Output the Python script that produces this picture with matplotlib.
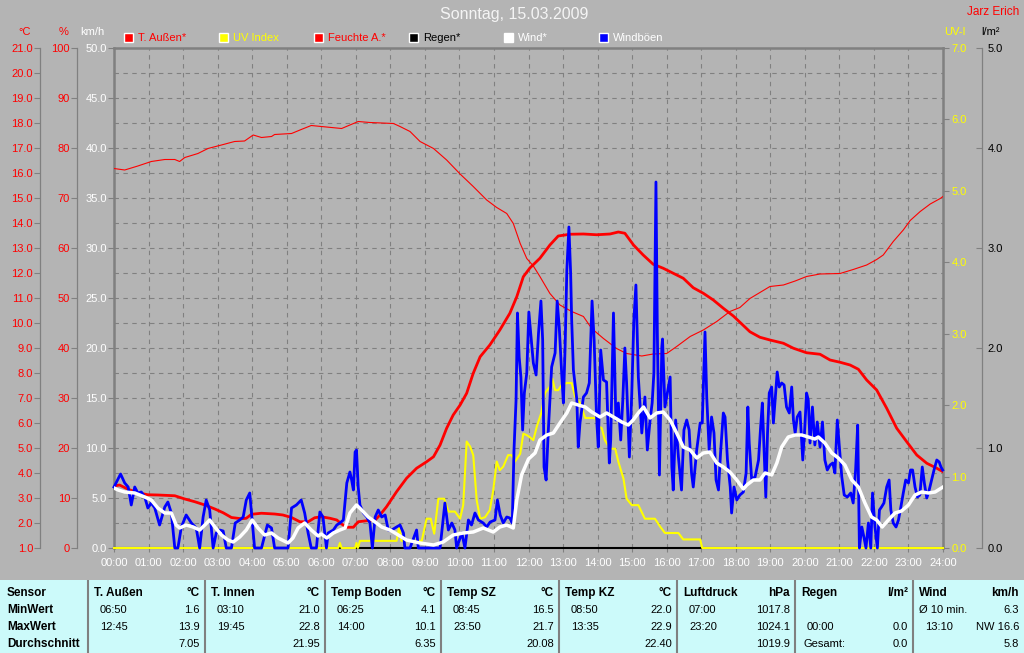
import matplotlib
matplotlib.use("Agg")
import matplotlib.pyplot as plt
from matplotlib.patches import Rectangle
from matplotlib.ticker import MultipleLocator, FormatStrFormatter, FuncFormatter

plt.rcParams['font.family'] = ['Liberation Sans', 'DejaVu Sans']

# ---- data (hours since midnight) ----
temp_h = [0.00, 0.16, 0.41, 0.69, 0.98, 1.27, 1.76, 2.05, 2.34, 2.63, 2.92, 3.16, 3.40, 3.69,
          3.83, 3.98, 4.27, 4.65, 4.89, 5.14, 5.38, 5.62, 5.81, 6.00, 6.25, 6.45, 6.59, 6.74,
          6.93, 7.07, 7.32, 7.56, 7.70, 7.89, 8.18, 8.47, 8.76, 9.05, 9.25, 9.44, 9.63, 9.82,
          10.02, 10.21, 10.40, 10.60, 10.88, 11.17, 11.46, 11.66, 11.85, 12.04, 12.33, 12.62,
          12.86, 13.20, 13.59, 13.97, 14.36, 14.60, 14.79, 15.04, 15.32, 15.61, 15.90, 16.19,
          16.48, 16.77, 17.06, 17.35, 17.64, 17.93, 18.22, 18.41, 18.70, 18.99, 19.38, 19.67,
          20.05, 20.44, 20.73, 21.02, 21.31, 21.55, 21.79, 22.08, 22.37, 22.66, 22.95, 23.24,
          23.53, 23.82, 24.00]
temp_v = [3.48, 3.52, 3.35, 3.21, 3.13, 3.12, 3.09, 2.96, 2.85, 2.72, 2.56, 2.41, 2.22, 2.17,
          2.19, 2.35, 2.39, 2.36, 2.32, 2.22, 2.05, 2.05, 2.21, 2.25, 2.19, 2.12, 1.96, 1.83,
          1.83, 2.05, 2.09, 2.12, 2.32, 2.65, 3.25, 3.79, 4.19, 4.45, 4.65, 5.12, 5.79, 6.32,
          6.72, 7.19, 7.99, 8.65, 9.12, 9.72, 10.39, 11.05, 11.85, 12.20, 12.59, 13.12,
          13.48, 13.55, 13.56, 13.53, 13.56, 13.64, 13.59, 13.12, 12.72, 12.35, 12.19, 11.99,
          11.79, 11.41, 11.19, 10.92, 10.59, 10.28, 9.90, 9.65, 9.43, 9.32, 9.19, 8.99,
          8.81, 8.75, 8.52, 8.43, 8.32, 8.15, 7.72, 7.32, 6.59, 5.79, 5.25, 4.72,
          4.39, 4.19, 4.05]

hum_h = [0.00, 0.31, 0.69, 1.08, 1.47, 1.76, 1.90, 2.05, 2.43, 2.72, 3.11, 3.49, 3.78, 4.03,
         4.27, 4.56, 4.65, 5.14, 5.42, 5.71, 6.00, 6.59, 6.83, 7.07, 7.41, 8.09, 8.28, 8.57,
         8.86, 9.25, 9.63, 10.02, 10.40, 10.79, 11.08, 11.37, 11.56, 11.76, 11.95, 12.14,
         12.33, 12.62, 12.91, 13.25, 13.59, 13.83, 14.17, 14.55, 14.84, 15.28, 15.61, 16.00,
         16.29, 16.68, 17.06, 17.45, 17.83, 18.12, 18.41, 18.70, 18.99, 19.38, 19.72, 20.05,
         20.44, 21.02, 21.40, 21.79, 22.08, 22.27, 22.56, 22.85, 23.05, 23.34, 23.63, 23.92,
         24.00]
hum_v = [75.9, 75.6, 76.4, 77.3, 77.7, 77.7, 77.3, 78.1, 78.9, 79.9, 80.6, 81.3, 81.4, 82.6,
         82.1, 82.3, 82.7, 82.9, 83.7, 84.5, 84.3, 83.9, 84.6, 85.3, 85.1, 84.9, 84.3, 83.3,
         81.3, 79.9, 77.6, 74.8, 72.3, 69.6, 68.1, 66.9, 64.9, 60.9, 57.9, 56.4,
         54.3, 50.9, 48.6, 47.3, 46.3, 43.9, 41.9, 39.9, 38.9, 38.4, 38.8, 38.9,
         40.3, 42.3, 43.6, 45.3, 47.3, 48.1, 49.9, 51.1, 52.3, 52.6, 53.4, 54.3,
         54.8, 54.9, 55.7, 56.6, 57.7, 58.6, 61.3, 63.6, 65.5, 67.3, 68.8, 69.9,
         70.3]

uv_h = [0.00, 6.49, 6.54, 6.59, 6.98, 7.02, 7.06, 7.12, 8.18, 8.26, 8.32, 8.91, 9.05, 9.17,
        9.27, 9.39, 9.56, 9.68, 9.87, 10.02, 10.11, 10.21, 10.31, 10.40, 10.50, 10.60, 10.74,
        10.88, 10.98, 11.08, 11.17, 11.27, 11.41, 11.51, 11.61, 11.76, 11.85, 11.95, 12.04,
        12.14, 12.24, 12.37, 12.48, 12.62, 12.69, 12.77, 12.86, 12.96, 13.11, 13.25, 13.35,
        13.49, 13.64, 13.93, 14.02, 14.12, 14.21, 14.36, 14.51, 14.60, 14.75, 14.84, 14.99,
        15.18, 15.37, 15.66, 15.81, 15.95, 16.34, 16.48, 16.97, 17.03, 24.00]
uv_v = [0.00, 0.00, 0.07, 0.00, 0.00, 0.07, 0.00, 0.10, 0.10, 0.30, 0.10, 0.10, 0.41, 0.41,
        0.20, 0.69, 0.69, 0.51, 0.51, 0.41, 0.60, 1.49, 1.42, 1.30, 0.67, 0.41, 0.43,
        0.53, 0.81, 1.21, 1.09, 1.14, 1.30, 1.30, 1.21, 1.32, 1.60, 1.58, 1.55,
        1.51, 1.70, 1.89, 2.17, 2.26, 2.37, 2.21, 2.21, 2.28, 2.31, 2.31, 2.12,
        2.03, 1.82, 1.82, 1.70, 1.68, 1.51, 1.39, 1.39, 1.21, 0.97, 0.69, 0.60,
        0.60, 0.41, 0.41, 0.30, 0.21, 0.21, 0.12, 0.12, 0.00, 0.00]

rain_h = [0.0, 24.0]
rain_v = [0.0, 0.0]

wind_h = [0.00, 0.12, 0.31, 0.60, 0.89, 1.08, 1.27, 1.47, 1.66, 1.80, 1.90, 2.09, 2.29, 2.48,
          2.63, 2.77, 2.92, 3.11, 3.30, 3.45, 3.64, 3.83, 4.00, 4.17, 4.36, 4.56, 4.75, 5.04,
          5.18, 5.33, 5.52, 5.71, 5.91, 6.00, 6.16, 6.35, 6.54, 6.69, 6.83, 7.02, 7.17, 7.36,
          7.56, 7.75, 7.99, 8.23, 8.47, 8.86, 9.25, 9.53, 9.82, 10.11, 10.40, 10.69, 10.98,
          11.17, 11.37, 11.56, 11.66, 11.80, 12.00, 12.19, 12.33, 12.53, 12.72, 12.91, 13.11,
          13.25, 13.44, 13.64, 13.83, 14.07, 14.26, 14.46, 14.70, 14.89, 15.03, 15.18, 15.33,
          15.52, 15.71, 15.90, 16.10, 16.29, 16.48, 16.68, 16.87, 17.06, 17.25, 17.45, 17.64,
          17.83, 18.03, 18.22, 18.32, 18.51, 18.70, 18.85, 19.04, 19.19, 19.33, 19.52, 19.72,
          19.91, 20.10, 20.29, 20.39, 20.58, 20.78, 20.97, 21.16, 21.36, 21.55, 21.74, 21.93,
          22.08, 22.24, 22.42, 22.61, 22.80, 23.00, 23.19, 23.38, 23.58, 23.77, 24.00]
wind_v = [6.0, 5.8, 5.6, 5.5, 5.1, 4.8, 4.0, 3.5, 3.5, 2.3, 2.0, 2.3, 2.1, 1.8,
          2.3, 2.8, 2.1, 1.3, 0.8, 0.6, 1.1, 1.8, 2.8, 2.0, 1.3, 1.5, 1.0, 0.5,
          1.0, 2.0, 2.5, 1.8, 1.2, 1.4, 1.0, 1.5, 1.8, 2.0, 3.5, 4.3, 3.8, 3.1,
          2.6, 2.1, 1.8, 1.3, 0.8, 0.5, 0.3, 0.6, 1.3, 1.5, 1.6, 2.0, 1.6,
          2.1, 2.3, 2.0, 4.8, 7.3, 8.9, 9.5, 10.8, 11.3, 11.5, 12.5, 13.5,
          14.5, 14.3, 14.1, 13.6, 13.1, 13.5, 13.1, 12.6, 12.3, 12.8, 13.5, 14.1,
          13.0, 13.5, 13.6, 12.8, 11.5, 10.1, 9.8, 9.0, 9.5, 9.6, 8.5, 8.1,
          7.6, 6.8, 5.9, 6.3, 6.8, 6.8, 7.5, 7.3, 8.5, 10.1, 11.1, 11.3,
          11.3, 11.1, 10.9, 11.1, 10.5, 9.5, 9.0, 8.3, 6.8, 6.1, 4.5, 3.1,
          2.8, 2.1, 2.8, 3.5, 3.7, 4.3, 5.3, 5.6, 5.5, 5.6, 6.1]

gust_h = [0.00, 0.19, 0.31, 0.41, 0.50, 0.60, 0.69, 0.79, 0.89, 0.98, 1.08, 1.18, 1.32, 1.47,
          1.56, 1.66, 1.76, 1.85, 1.95, 2.09, 2.24, 2.38, 2.48, 2.58, 2.67, 2.77, 2.87, 2.96,
          3.06, 3.16, 3.25, 3.40, 3.51, 3.64, 3.74, 3.83, 3.93, 4.00, 4.07, 4.27, 4.44, 4.56,
          4.65, 4.85, 5.04, 5.14, 5.28, 5.42, 5.52, 5.62, 5.71, 5.86, 5.96, 6.05, 6.15, 6.20,
          6.35, 6.45, 6.54, 6.64, 6.74, 6.83, 6.88, 6.93, 6.98, 7.02, 7.07, 7.12, 7.22, 7.32,
          7.41, 7.48, 7.56, 7.65, 7.75, 7.85, 7.94, 8.04, 8.18, 8.28, 8.38, 8.42, 8.57, 8.76,
          8.81, 9.44, 9.58, 9.68, 9.78, 9.87, 9.92, 10.07, 10.16, 10.26, 10.35, 10.45, 10.55,
          10.69, 10.79, 10.89, 11.03, 11.10, 11.18, 11.27, 11.37, 11.46, 11.53, 11.58, 11.64,
          11.68, 11.73, 11.78, 11.83, 11.88, 11.95, 12.01, 12.14, 12.22, 12.29, 12.36, 12.41,
          12.45, 12.51, 12.57, 12.67, 12.77, 12.83, 12.89, 12.96, 13.01, 13.06, 13.11, 13.17,
          13.22, 13.25, 13.30, 13.40, 13.44, 13.49, 13.59, 13.68, 13.76, 13.84, 13.90, 13.97,
          14.02, 14.09, 14.17, 14.26, 14.34, 14.38, 14.46, 14.53, 14.60, 14.67, 14.73, 14.79,
          14.84, 14.92, 14.99, 15.05, 15.11, 15.18, 15.28, 15.37, 15.44, 15.52, 15.58, 15.63,
          15.69, 15.73, 15.79, 15.86, 15.88, 15.95, 16.02, 16.10, 16.15, 16.19, 16.26, 16.34,
          16.43, 16.50, 16.58, 16.65, 16.72, 16.77, 16.87, 16.97, 17.03, 17.11, 17.16, 17.23,
          17.30, 17.37, 17.43, 17.50, 17.56, 17.64, 17.69, 17.76, 17.84, 17.88, 17.95, 18.03,
          18.12, 18.22, 18.30, 18.35, 18.39, 18.46, 18.56, 18.66, 18.72, 18.77, 18.82, 18.87,
          18.92, 18.97, 19.04, 19.09, 19.14, 19.20, 19.26, 19.33, 19.40, 19.47, 19.55, 19.62,
          19.67, 19.72, 19.78, 19.86, 19.94, 20.00, 20.05, 20.10, 20.15, 20.22, 20.29, 20.36,
          20.44, 20.51, 20.58, 20.65, 20.73, 20.81, 20.87, 20.94, 21.00, 21.07, 21.14, 21.23,
          21.33, 21.40, 21.47, 21.53, 21.58, 21.65, 21.71, 21.77, 21.84, 21.91, 21.96, 22.03,
          22.10, 22.16, 22.22, 22.29, 22.37, 22.44, 22.49, 22.56, 22.64, 22.71, 22.78, 22.85,
          22.92, 23.00, 23.06, 23.12, 23.19, 23.26, 23.33, 23.40, 23.46, 23.53, 23.60, 23.67,
          23.74, 23.82, 23.89, 23.94, 23.99]
gust_v = [6.1, 7.4, 6.5, 6.1, 4.3, 6.1, 5.5, 5.6, 5.1, 4.0, 4.5, 4.0, 2.3, 4.1,
          4.6, 3.5, 0.0, 0.0, 2.1, 3.3, 2.5, 2.0, 0.0, 3.1, 4.8, 3.8, 0.0, 1.5,
          1.8, 1.7, 0.0, 0.0, 2.5, 2.8, 3.1, 4.8, 5.5, 2.8, 0.0, 0.0, 2.3, 2.0,
          0.0, 0.0, 0.0, 4.0, 4.3, 4.8, 3.5, 1.5, 0.0, 0.0, 3.6, 3.1, 0.0, 1.5,
          1.8, 2.3, 2.5, 2.8, 6.5, 7.6, 6.8, 5.8, 9.6, 9.8, 6.1, 4.3, 3.5, 3.1,
          2.5, 0.0, 3.1, 3.8, 3.1, 3.3, 1.8, 1.8, 2.1, 2.3, 1.5, 0.0, 0.0, 1.8,
          0.0, 0.0, 4.5, 1.8, 2.5, 1.8, 0.0, 1.5, 0.0, 2.8, 2.3, 3.5, 2.8,
          2.5, 2.1, 2.6, 2.8, 4.8, 3.3, 2.5, 3.1, 3.0, 2.5, 9.8, 14.8,
          23.5, 19.1, 17.1, 11.8, 15.5, 17.5, 23.6, 18.5, 17.3, 21.5, 24.7, 20.8,
          8.1, 6.8, 11.5, 18.1, 19.5, 24.7, 22.1, 17.5, 14.5, 20.1, 27.8, 32.1,
          27.5, 22.8, 17.8, 14.8, 10.1, 12.5, 15.1, 15.5, 16.5, 24.7, 20.8, 13.1,
          10.1, 19.8, 16.8, 16.6, 8.5, 10.8, 23.5, 12.8, 14.5, 10.8, 14.8, 20.0,
          16.5, 9.1, 15.5, 22.8, 26.3, 17.1, 11.5, 15.1, 9.8, 12.8, 14.5, 17.5,
          36.6, 21.5, 7.3, 20.1, 20.9, 14.1, 15.5, 17.1, 8.1, 5.8, 12.8, 9.1,
          5.8, 11.8, 12.8, 11.8, 7.5, 6.1, 9.8, 12.5, 12.5, 21.6, 15.1, 9.8,
          13.1, 11.5, 6.8, 5.8, 9.5, 13.5, 13.1, 8.8, 6.1, 3.5, 6.1, 4.8,
          5.3, 5.6, 7.5, 14.1, 10.5, 6.9, 7.1, 8.8, 12.1, 14.5, 9.8, 5.1,
          11.5, 15.5, 16.1, 12.5, 14.8, 17.6, 16.1, 16.5, 16.3, 14.1, 13.5, 16.1,
          12.8, 11.5, 13.1, 13.6, 8.8, 12.1, 15.5, 14.8, 10.5, 14.1, 10.3, 12.6,
          10.1, 12.6, 8.8, 7.8, 8.3, 8.5, 7.5, 12.8, 10.1, 7.1, 5.3, 5.1,
          5.5, 4.5, 7.8, 12.3, 0.0, 2.1, 1.1, 0.0, 2.5, 0.0, 5.5, 2.1,
          0.0, 3.8, 4.1, 4.5, 6.1, 6.8, 3.8, 2.5, 2.1, 2.8, 4.1, 5.5,
          6.8, 6.5, 7.8, 7.8, 6.1, 5.1, 5.3, 8.1, 6.5, 5.0, 5.8, 6.8,
          7.8, 8.8, 8.6, 8.1, 7.8]

title = 'Sonntag, 15.03.2009'
legend_labels = ['T. Außen*', 'UV Index', 'Feuchte A.*', 'Regen*', 'Wind*', 'Windböen']
legend_colors = ['#ff0000', '#ffff00', '#ff0000', '#000000', '#ffffff', '#0000ff']
legend_text_colors = ['#ff0000', '#ffff00', '#ff0000', '#000000', '#ffffff', '#ffffff']

# statistics table
row_names = ['Sensor', 'MinWert', 'MaxWert', 'Durchschnitt']
sensors = ['T. Außen', 'T. Innen', 'Temp Boden', 'Temp SZ', 'Temp KZ', 'Luftdruck', 'Regen', 'Wind']
units = ['°C', '°C', '°C', '°C', '°C', 'hPa', 'l/m²', 'km/h']
min_time = ['06:50', '03:10', '06:25', '08:45', '08:50', '07:00', '', '']
min_val = ['1.6', '21.0', '4.1', '16.5', '22.0', '1017.8', '', '6.3']
max_time = ['12:45', '19:45', '14:00', '23:50', '13:35', '23:20', '00:00', '13:10']
max_val = ['13.9', '22.8', '10.1', '21.7', '22.9', '1024.1', '0.0', 'NW 16.6']
avg_note = ['', '', '', '', '', '', 'Gesamt:', '']
avg_val = ['7.05', '21.95', '6.35', '20.08', '22.40', '1019.9', '0.0', '5.8']
min_note = ['', '', '', '', '', '', '', 'Ø 10 min.']

# ---- figure ----
W, H = 1024, 653
BG = '#b4b4b4'
GRID = '#808080'
RED = '#ff0000'
YEL = '#ffff00'

fig = plt.figure(figsize=(W / 100, H / 100), dpi=100, facecolor=BG)


def fx(px):
    return px / W


def fy(py):
    return 1 - py / H


L, R, T, B = 114, 943, 48, 548
ax = fig.add_axes([fx(L), fy(B), (R - L) / W, (B - T) / H])
ax.set_facecolor(BG)
ax.set_xlim(0, 24)
ax.set_ylim(0, 50)
ax.xaxis.set_major_locator(MultipleLocator(1))
ax.xaxis.set_major_formatter(FuncFormatter(lambda v, p: '%02d:00' % int(round(v))))
ax.yaxis.set_major_locator(MultipleLocator(5))
ax.yaxis.set_minor_locator(MultipleLocator(2.5))
ax.yaxis.set_major_formatter(FormatStrFormatter('%.1f'))
ax.grid(which='both', color=GRID, ls=(0, (4, 4)), lw=0.8)
ax.tick_params(axis='y', which='minor', length=0)
ax.tick_params(axis='y', which='major', color=GRID, labelcolor='white', length=4,
               width=0.8, labelsize=8, pad=1)
ax.tick_params(axis='x', color=GRID, labelcolor='white', length=3, width=0.8,
               labelsize=8, pad=4)
for s in ['left', 'top', 'right']:
    ax.spines[s].set_color(GRID)
    ax.spines[s].set_linewidth(1.8)
ax.spines['bottom'].set_visible(False)


def side_axis(side, pos, lo, hi, step, fmt, color, direction='out'):
    a = ax.twinx()
    for s in a.spines.values():
        s.set_visible(False)
    if side == 'left':
        a.yaxis.tick_left()
    else:
        a.yaxis.tick_right()
    if pos is not None:
        a.spines[side].set_visible(True)
        a.spines[side].set_position(('axes', pos))
        a.spines[side].set_color(GRID)
        a.spines[side].set_linewidth(0.9)
    a.set_ylim(lo, hi)
    a.yaxis.set_major_locator(MultipleLocator(step))
    a.yaxis.set_major_formatter(FormatStrFormatter(fmt))
    a.tick_params(axis='y', color=GRID, labelcolor=color, length=4, width=0.8,
                  labelsize=8, pad=1 if direction == 'out' else 4, direction=direction)
    return a


span = R - L
t_ax = side_axis('left', (40 - L) / span, 1, 21, 1, '%.1f', RED)
h_ax = side_axis('left', (77 - L) / span, 0, 100, 10, '%d', RED)
r_ax = side_axis('right', (982 - L) / span, 0, 5, 1, '%.1f', 'black', direction='in')
uv_ax = side_axis('right', None, 0, 7, 1, '%.1f', YEL)
uv_ax.tick_params(axis='y', pad=2)

w_ax = ax.twinx()
w_ax.set_ylim(0, 50)
w_ax.set_yticks([])
for s in w_ax.spines.values():
    s.set_visible(False)

t_ax.plot(temp_h, temp_v, color=RED, lw=2.0)
h_ax.plot(hum_h, hum_v, color=RED, lw=0.8)
r_ax.plot(rain_h, rain_v, color='black', lw=1.5, clip_on=False)
uv_ax.plot(uv_h, uv_v, color=YEL, lw=1.5, clip_on=False)
w_ax.plot(gust_h, gust_v, color='#0000ff', lw=2.0, clip_on=False)
w_ax.plot(wind_h, wind_v, color='white', lw=2.5)

# ---- header texts ----
fig.text(fx(514), fy(15), title, ha='center', va='center', color='#f4f4f4', fontsize=11.5)
fig.text(fx(993), fy(12), 'Jarz Erich', ha='center', va='center', color=RED, fontsize=8.5)
for lab, xc, col in [('°C', 25, RED), ('%', 64, RED), ('km/h', 92, 'white'),
                     ('UV-I', 955, YEL), ('l/m²', 991, 'black')]:
    fig.text(fx(xc), fy(32), lab, ha='center', va='center', color=col, fontsize=8)

for i, (lab, c, tc) in enumerate(zip(legend_labels, legend_colors, legend_text_colors)):
    x0 = 124 + 95 * i
    fig.add_artist(Rectangle((fx(x0), fy(42)), 9 / W, 9 / H, transform=fig.transFigure,
                             facecolor=c, edgecolor='white', lw=1))
    fig.text(fx(x0 + 14), fy(38), lab, ha='left', va='center', color=tc, fontsize=8)

# ---- statistics table ----
TOP = 580
tab = fig.add_axes([0, 0, 1, (H - TOP) / H])
tab.set_xlim(0, W)
tab.set_ylim(H, TOP)
tab.set_facecolor('#ccfafa')
tab.set_xticks([])
tab.set_yticks([])
for s in tab.spines.values():
    s.set_visible(False)

seps = [88, 205, 325, 441, 559, 677, 795, 913, 1024]
rows_y = [593, 610, 627, 644]
tab.vlines(seps[:-1], TOP, H, color=GRID, lw=1.5)
for name, yy in zip(row_names, rows_y):
    tab.text(7, yy, name, ha='left', va='center', fontsize=8.5, fontweight='bold')

for i in range(len(sensors)):
    x0, x1 = seps[i], seps[i + 1]
    tx, rx = x0 + 12, x1 - 5
    tab.text(x0 + 6, rows_y[0], sensors[i], ha='left', va='center', fontsize=8.5, fontweight='bold')
    tab.text(rx, rows_y[0], units[i], ha='right', va='center', fontsize=8.5, fontweight='bold')
    tab.text(tx, rows_y[1], min_time[i], ha='left', va='center', fontsize=8)
    tab.text(x0 + 6, rows_y[1], min_note[i], ha='left', va='center', fontsize=8)
    tab.text(rx, rows_y[1], min_val[i], ha='right', va='center', fontsize=8)
    tab.text(tx, rows_y[2], max_time[i], ha='left', va='center', fontsize=8)
    tab.text(rx, rows_y[2], max_val[i], ha='right', va='center', fontsize=8)
    tab.text(x0 + 8, rows_y[3], avg_note[i], ha='left', va='center', fontsize=8)
    tab.text(rx, rows_y[3], avg_val[i], ha='right', va='center', fontsize=8)

fig.savefig('out.png', dpi=100, facecolor=BG)
